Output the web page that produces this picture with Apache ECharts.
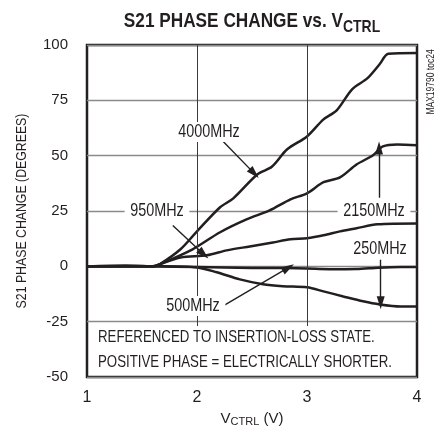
<!DOCTYPE html>
<html>
<head>
<meta charset="utf-8">
<script src="https://cdn.jsdelivr.net/npm/echarts@6/dist/echarts.min.js"></script>
<style>
  html, body { margin: 0; padding: 0; background: #fff; }
  #chart { width: 446px; height: 438px; }
</style>
</head>
<body>
<div id="chart"></div>
<script>
  // values: VCTRL (V) and phase change (degrees)
  var x4000 = [1, 1.6, 1.66, 1.85, 2.0, 2.21, 2.33, 2.55, 2.68, 2.82, 3.0, 3.15, 3.27, 3.41, 3.55, 3.66, 3.74, 4.0];
  var p4000 = [0, 0, 0.9, 7.7, 15.8, 26.7, 30.7, 41.6, 45, 52.9, 58.7, 66.4, 70.5, 80, 85, 91.3, 96, 96.4];
  var x2150 = [1, 1.6, 1.66, 1.96, 2.21, 2.45, 2.66, 2.85, 3.0, 3.15, 3.3, 3.45, 3.6, 3.69, 3.82, 4.0];
  var p2150 = [0, 0, 0.9, 7.7, 15.4, 21.2, 25.3, 30.3, 33, 38, 40.2, 46, 50.2, 54.2, 55.1, 54.7];
  var x950 = [1, 1.6, 1.66, 1.85, 2.09, 2.27, 2.48, 2.69, 2.85, 3.0, 3.15, 3.3, 3.45, 3.64, 4.0];
  var p950 = [0, 0, 0.9, 4, 5, 7.2, 9, 10.8, 12.2, 12.7, 14, 15.8, 17.2, 19, 19.4];
  var x500 = [1, 1.35, 1.45, 1.6, 2.0, 2.5, 2.8, 3.0, 3.2, 3.45, 3.65, 3.85, 4.0];
  var p500 = [0, 0.4, 0.3, 0, -0.3, -0.7, -0.8, -1, -1.3, -1.2, -0.6, -0.3, -0.3];
  var x250 = [1, 1.6, 1.66, 2.0, 2.18, 2.39, 2.6, 2.78, 3.0, 3.15, 3.33, 3.51, 3.66, 3.85, 4.0];
  var p250 = [0, 0, 0, -0.5, -2.7, -5.9, -8.1, -9, -9.5, -11.3, -13.6, -15.8, -17.2, -18.1, -18.1];

  var xTicks = [1, 2, 3, 4];
  var yTicks = [-50, -25, 0, 25, 50, 75, 100];

  var INK = '#231f20';
  var FONT = '"Liberation Sans", Arial, sans-serif';
  var NARROW = 0.8; // no condensed face installed, so squeeze the text

  function pairs(xs, ys) {
    var out = [];
    for (var i = 0; i < xs.length; i++) out.push([xs[i], ys[i]]);
    return out;
  }

  function curve(name, xs, ys) {
    return {
      name: name,
      type: 'line',
      data: pairs(xs, ys),
      smooth: 0.3,
      showSymbol: false,
      symbol: 'none',
      silent: true,
      z: 3,
      lineStyle: { color: INK, width: 2.5 }
    };
  }

  function seg(a, b) {
    return [{ coord: a }, { coord: b }];
  }

  function label(text, x, y) {
    return {
      type: 'text',
      x: x, y: y, z: 50,
      scaleX: NARROW,
      style: {
        text: text,
        font: '18px ' + FONT,
        fill: INK,
        align: 'center',
        verticalAlign: 'middle',
        backgroundColor: '#fff',
        padding: [1, 7]
      }
    };
  }

  var chart = echarts.init(document.getElementById('chart'));

  var option = {
    animation: false,
    backgroundColor: '#fff',
    grid: {
      left: 87, top: 45, width: 330, height: 332,
      show: true,
      borderColor: INK,
      borderWidth: 2.5,
      backgroundColor: 'transparent'
    },
    xAxis: {
      type: 'value',
      min: 1, max: 4, interval: 1,
      name: '{a|V}{b|CTRL}{a| (V)}',
      nameLocation: 'middle',
      nameGap: 34,
      nameTextStyle: {
        rich: {
          a: { fontFamily: FONT, fontSize: 15, color: INK },
          b: { fontFamily: FONT, fontSize: 11, color: INK, padding: [5, 0, 0, 0] }
        }
      },
      axisLine: { show: false },
      axisTick: { show: true, inside: true, length: 5, lineStyle: { color: INK, width: 1 } },
      axisLabel: {
        fontFamily: FONT, fontSize: 16, color: INK, margin: 13,
        formatter: function (v) { return xTicks.indexOf(v) >= 0 ? String(v) : ''; }
      },
      splitLine: { show: false }
    },
    yAxis: {
      type: 'value',
      min: -50, max: 100, interval: 25,
      axisLine: { show: false },
      axisTick: { show: false },
      axisLabel: {
        fontFamily: FONT, fontSize: 15, color: INK, margin: 19,
        formatter: function (v) { return yTicks.indexOf(v) >= 0 ? String(v) : ''; }
      },
      splitLine: { show: true, lineStyle: { color: '#8a8a8a', width: 1.3 } }
    },
    series: [
      {
        // vertical grid lines stop at the note box
        type: 'line',
        data: [],
        silent: true,
        z: 1,
        markLine: {
          silent: true,
          symbol: 'none',
          animation: false,
          label: { show: false },
          lineStyle: { color: '#3a3a3a', width: 1, type: 'solid' },
          data: [seg([2, -27], [2, 100]), seg([3, -27], [3, 100])]
        }
      },
      curve('250MHz', x250, p250),
      curve('500MHz', x500, p500),
      curve('950MHz', x950, p950),
      curve('2150MHz', x2150, p2150),
      curve('4000MHz', x4000, p4000),
      {
        // annotation arrows
        type: 'line',
        data: [],
        silent: true,
        z: 4,
        markLine: {
          silent: true,
          symbol: ['none', 'triangle'],
          symbolSize: [8, 13],
          animation: false,
          label: { show: false },
          lineStyle: { color: INK, width: 1.4, type: 'solid' },
          data: [
            seg([2.236, 56.5], [2.52, 42]),
            seg([1.78, 18.5], [2.06, 5.5]),
            seg([3.655, 31], [3.655, 53.5]),
            seg([3.67, 3], [3.67, -16.5]),
            seg([2.25, -17.5], [2.83, -0.6])
          ]
        }
      }
    ],
    graphic: [
      {
        type: 'text', x: 252, y: 21, z: 50, scaleX: 0.82,
        style: {
          text: '{a|S21 PHASE CHANGE vs. V}{b|CTRL}',
          align: 'center', verticalAlign: 'middle',
          rich: {
            a: { font: 'bold 21px ' + FONT, fill: INK, verticalAlign: 'bottom' },
            b: { font: 'bold 17px ' + FONT, fill: INK, verticalAlign: 'bottom', padding: [0, 0, -4, 0] }
          }
        }
      },
      {
        type: 'text', x: 22, y: 211, z: 50, rotation: Math.PI / 2, scaleX: 0.82,
        style: { text: 'S21 PHASE CHANGE (DEGREES)', font: '15px ' + FONT, fill: INK, align: 'center', verticalAlign: 'middle' }
      },
      label('4000MHz', 209, 132),
      label('950MHz', 157, 211),
      label('2150MHz', 374, 211),
      label('250MHz', 380, 249),
      label('500MHz', 193, 306),
      {
        type: 'text', x: 98, y: 337, z: 50, scaleX: 0.78,
        style: { text: 'REFERENCED TO INSERTION-LOSS STATE.', font: '17px ' + FONT, fill: INK, verticalAlign: 'middle' }
      },
      {
        type: 'text', x: 98, y: 362, z: 50, scaleX: 0.78,
        style: { text: 'POSITIVE PHASE = ELECTRICALLY SHORTER.', font: '17px ' + FONT, fill: INK, verticalAlign: 'middle' }
      },
      {
        type: 'text', x: 431, y: 82, z: 50, rotation: Math.PI / 2, scaleX: 0.85,
        style: { text: 'MAX19790 toc24', font: '10px ' + FONT, fill: INK, align: 'center', verticalAlign: 'middle' }
      }
    ]
  };

  chart.setOption(option);
</script>
</body>
</html>
